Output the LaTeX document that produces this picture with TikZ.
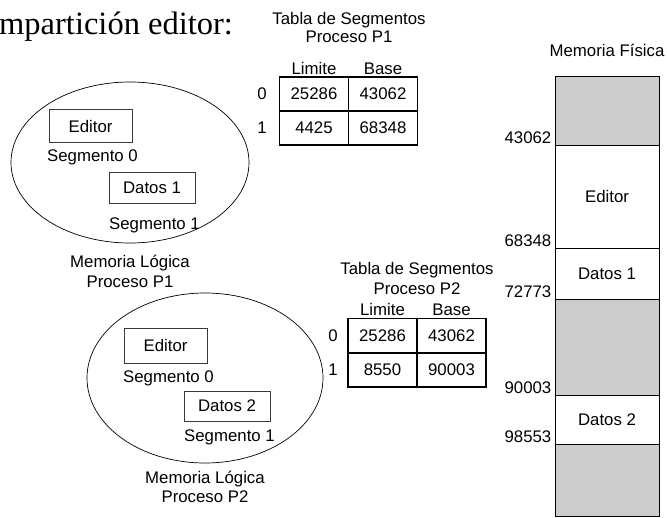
\documentclass[tikz,border=0pt]{standalone}
\usepackage{fontspec}
\setmainfont{Liberation Sans}
\newfontfamily\titlefont{Liberation Serif}
\usepackage{tikz}
\usetikzlibrary{shapes.geometric,positioning}
\definecolor{cLine}{HTML}{000000}
\definecolor{cBox}{HTML}{3A3A3A}
\definecolor{cFree}{HTML}{CCCCCC}
\newcommand\txtsize{\fontsize{16.8}{20}\selectfont}
\tikzset{
  lmem/.style = {ellipse, draw=cLine, line width=0.7pt, inner sep=0pt},
  seg/.style  = {rectangle, draw=cBox, line width=0.9pt, minimum width=83pt,
                 minimum height=33pt, inner sep=0pt, font=\txtsize},
  lbl/.style  = {font=\txtsize, inner sep=0pt},
  cell/.style = {rectangle, draw=cLine, line width=1.1pt, minimum width=69pt,
                 minimum height=34pt, inner sep=0pt, font=\txtsize},
  blk/.style  = {rectangle, draw=cLine, line width=1pt, minimum width=104pt,
                 inner sep=0pt, font=\txtsize},
  free/.style = {blk, fill=cFree},
  addr/.style = {font=\txtsize, inner sep=0pt, anchor=base east},
}

\begin{document}
\begin{tikzpicture}[x=1pt, y=-1pt]
  \useasboundingbox (0,0) rectangle (667,517);

  % titulo
  \node[anchor=base west, inner sep=0pt, font=\titlefont\fontsize{32.5}{38}\selectfont]
    (title) at (-1,34) {mpartición editor:};

  % memoria logica P1
  \node[lmem, minimum width=238pt, minimum height=161pt] (l1) at (130,162.5) {};
  \node[seg] (l1s0) at (90.5,126) {Editor};
  \node[lbl, anchor=base west] (l1n0) at (47,161) {Segmento 0};
  \node[seg, minimum width=86pt, minimum height=31pt] (l1s1) at (152,187.5) {Datos 1};
  \node[lbl, anchor=base west] (l1n1) at (109,229) {Segmento 1};
  \node[lbl, anchor=base] (l1t) at (130,267) {Memoria Lógica};
  \node[lbl, anchor=base] (l1p) at (130,287) {Proceso P1};

  % memoria logica P2
  \node[lmem, minimum width=236pt, minimum height=170pt] (l2) at (205,378) {};
  \node[seg, minimum height=35pt] (l2s0) at (165.5,345.5) {Editor};
  \node[lbl, anchor=base west] (l2n0) at (123,382) {Segmento 0};
  \node[seg, minimum width=86pt, minimum height=30pt] (l2s1) at (227,406) {Datos 2};
  \node[lbl, anchor=base west] (l2n1) at (184,441) {Segmento 1};
  \node[lbl, anchor=base] (l2t) at (205,483) {Memoria Lógica};
  \node[lbl, anchor=base] (l2p) at (205,502) {Proceso P2};

  % tabla de segmentos P1
  \node[lbl, anchor=base] (t1t) at (349,24) {Tabla de Segmentos};
  \node[lbl, anchor=base] (t1p) at (349,42) {Proceso P1};
  \node[lbl, anchor=base] (t1lim) at (314,74) {Limite};
  \node[lbl, anchor=base] (t1bas) at (383,74) {Base};
  \node[cell] (t1l0) at (314,94) {25286};
  \node[cell] (t1b0) at (383,94) {43062};
  \node[cell] (t1l1) at (314,128) {4425};
  \node[cell] (t1b1) at (383,128) {68348};
  \node[lbl] (t1r0) at (262,94) {0};
  \node[lbl] (t1r1) at (262,128) {1};

  % tabla de segmentos P2
  \node[lbl, anchor=base] (t2t) at (417,274) {Tabla de Segmentos};
  \node[lbl, anchor=base] (t2p) at (417,294) {Proceso P2};
  \node[lbl, anchor=base] (t2lim) at (382.5,315) {Limite};
  \node[lbl, anchor=base] (t2bas) at (451.5,315) {Base};
  \node[cell] (t2l0) at (382.5,335.5) {25286};
  \node[cell] (t2b0) at (451.5,335.5) {43062};
  \node[cell] (t2l1) at (382.5,370) {8550};
  \node[cell] (t2b1) at (451.5,370) {90003};
  \node[lbl] (t2r0) at (333,335.5) {0};
  \node[lbl] (t2r1) at (333,370) {1};

  % memoria fisica
  \node[lbl, anchor=base] (mft) at (607,56) {Memoria Física};
  \node[free, minimum height=69pt]  (m0) at (607,110.5) {};
  \node[blk,  minimum height=103pt] (m1) at (607,196.5) {Editor};
  \node[blk,  minimum height=51pt]  (m2) at (607,273.5) {Datos 1};
  \node[free, minimum height=96pt]  (m3) at (607,347) {};
  \node[blk,  minimum height=49pt]  (m4) at (607,419.5) {Datos 2};
  \node[free, minimum height=72pt]  (m5) at (607,480) {};

  \node[addr] (a1) at ([xshift=-3pt,yshift=1pt]m1.north west) {43062};
  \node[addr] (a2) at ([xshift=-3pt,yshift=1pt]m2.north west) {68348};
  \node[addr] (a3) at ([xshift=-3pt,yshift=1pt]m3.north west) {72773};
  \node[addr] (a4) at ([xshift=-3pt,yshift=1pt]m4.north west) {90003};
  \node[addr] (a5) at ([xshift=-3pt,yshift=1pt]m5.north west) {98553};
\end{tikzpicture}
\end{document}
